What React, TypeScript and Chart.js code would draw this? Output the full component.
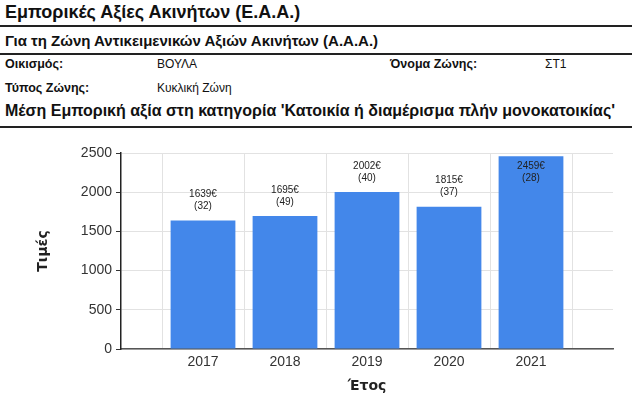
import React, { useEffect, useRef } from "react";
import { Chart, registerables } from "chart.js";

Chart.register(...registerables);

const years = [2017, 2018, 2019, 2020, 2021];
const prices = [1639, 1695, 2002, 1815, 2459];
const counts = [32, 49, 40, 37, 28];
const yTicks = [0, 500, 1000, 1500, 2000, 2500];

const BAR_COLOR = "#4387ea";

const labelPlugin = {
  id: "barLabels",
  afterDatasetsDraw(chart: any) {
    const { ctx, chartArea } = chart;
    const meta = chart.getDatasetMeta(0);
    ctx.save();
    ctx.font = "10px 'Liberation Sans', Arial, sans-serif";
    ctx.fillStyle = "#222";
    ctx.textAlign = "center";
    ctx.textBaseline = "middle";
    meta.data.forEach((bar: any, i: number) => {
      const l1 = prices[i] + "€";
      const l2 = "(" + counts[i] + ")";
      const blockH = 24;
      let top = bar.y - 8 - blockH;
      if (top < chartArea.top) top = bar.y + 4;
      ctx.fillText(l1, bar.x, top + 6);
      ctx.fillText(l2, bar.x, top + 18);
    });
    ctx.restore();
  },
};

function ChartView() {
  const ref = useRef<HTMLCanvasElement>(null);
  useEffect(() => {
    if (!ref.current) return;
    const chart = new Chart(ref.current, {
      type: "bar",
      data: {
        datasets: [
          {
            data: years.map((y, i) => ({ x: y, y: prices[i] })),
            backgroundColor: BAR_COLOR,
            barPercentage: 1,
            categoryPercentage: 0.79,
          },
        ],
      },
      options: {
        animation: false,
        responsive: false,
        maintainAspectRatio: false,
        layout: { padding: { top: 23, right: 19, left: 0, bottom: 0 } },
        plugins: { legend: { display: false }, tooltip: { enabled: false } },
        scales: {
          x: {
            type: "linear",
            min: 2016,
            max: 2022,
            offset: false,
            afterFit: (s: any) => {
              s.height = 50;
            },
            afterBuildTicks: (s: any) => {
              s.ticks = [2016, 2017, 2018, 2019, 2020, 2021, 2022].map((v) => ({ value: v }));
            },
            ticks: {
              autoSkip: false,
              maxRotation: 0,
              padding: 5,
              color: "#333",
              font: { family: "'Liberation Sans', Arial, sans-serif", size: 14 },
              callback: (v: any) => (years.includes(Number(v)) ? String(v) : ""),
            },
            grid: { color: "#e2e2e2", drawTicks: false },
            border: { color: "#555", width: 1.5 },
            title: {
              display: true,
              text: "Έτος",
              color: "#222",
              font: { family: "'DejaVu Sans', Tahoma, sans-serif", size: 14, weight: "bold" },
              padding: { top: 0, bottom: 4 },
            },
          },
          y: {
            min: 0,
            max: 2500,
            afterFit: (s: any) => {
              s.width = 121;
            },
            afterBuildTicks: (s: any) => {
              s.ticks = yTicks.map((v) => ({ value: v }));
            },
            ticks: {
              padding: 4,
              color: "#333",
              font: { family: "'Liberation Sans', Arial, sans-serif", size: 14 },
              callback: (v: any) => String(v),
            },
            grid: { color: "#e2e2e2", tickLength: 5, tickColor: "#333" },
            border: { color: "#222", width: 1.5 },
            title: {
              display: true,
              text: "Τιμές",
              color: "#222",
              font: { family: "'DejaVu Sans', Tahoma, sans-serif", size: 14, weight: "bold" },
              padding: { top: 35, bottom: 0 },
            },
          },
        },
      },
      plugins: [labelPlugin],
    } as any);
    return () => chart.destroy();
  }, []);
  return (
    <canvas
      ref={ref}
      width={632}
      height={269}
      style={{ position: "absolute", left: 0, top: 130, width: 632, height: 269 }}
    />
  );
}

const bold = "'Liberation Sans', Arial, sans-serif";

export default function App() {
  const line = (top: number) => (
    <div style={{ position: "absolute", left: 0, top, width: 632, height: 2, background: "#222" }} />
  );
  const txt = (left: number, top: number, text: string, size: number, weight: any) => (
    <div
      style={{
        position: "absolute",
        left,
        top,
        fontFamily: bold,
        fontSize: size,
        fontWeight: weight,
        color: "#111",
        whiteSpace: "nowrap",
        lineHeight: 1,
      }}
    >
      {text}
    </div>
  );
  return (
    <div style={{ position: "absolute", left: 0, top: 0, width: 632, height: 399, background: "#fff", overflow: "hidden" }}>
      {txt(5, 3, "Εμπορικές Αξίες Ακινήτων (Ε.Α.Α.)", 18, "bold")}
      {line(25)}
      {txt(5, 33, "Για τη Ζώνη Αντικειμενικών Αξιών Ακινήτων (Α.Α.Α.)", 15, "bold")}
      {line(53)}
      {txt(5, 58, "Οικισμός:", 12.5, "bold")}
      {txt(157, 58, "ΒΟΥΛΑ", 12, "normal")}
      {txt(390, 58, "Όνομα Ζώνης:", 12.5, "bold")}
      {txt(545, 58, "ΣΤ1", 12, "normal")}
      {txt(5, 82, "Τύπος Ζώνης:", 12.5, "bold")}
      {txt(157, 82, "Κυκλική Ζώνη", 12, "normal")}
      {txt(5, 103, "Μέση Εμπορική αξία στη κατηγορία 'Κατοικία ή διαμέρισμα πλήν μονοκατοικίας'", 16, "bold")}
      {line(126)}
      <ChartView />
    </div>
  );
}
